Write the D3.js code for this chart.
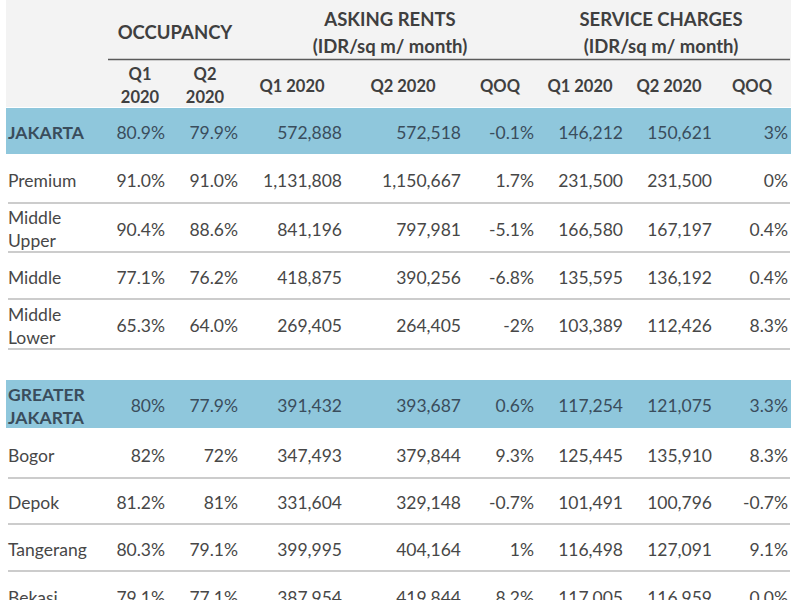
<!DOCTYPE html>
<html><head><meta charset="utf-8">
<script src="https://cdn.jsdelivr.net/npm/d3@7/dist/d3.min.js"></script>
<style>html,body{margin:0;padding:0;background:#fff;overflow:hidden}</style>
</head><body>
<svg id="c" width="800" height="600"></svg>
<script>
// ---- data ----
const regions = ["JAKARTA","Premium","Middle\nUpper","Middle","Middle\nLower","","GREATER\nJAKARTA","Bogor","Depok","Tangerang","Bekasi"];
const isGroup = [true,false,false,false,false,false,true,false,false,false,false];
const occQ1 = ["80.9%","91.0%","90.4%","77.1%","65.3%","","80%","82%","81.2%","80.3%","79.1%"];
const occQ2 = ["79.9%","91.0%","88.6%","76.2%","64.0%","","77.9%","72%","81%","79.1%","77.1%"];
const rentQ1 = ["572,888","1,131,808","841,196","418,875","269,405","","391,432","347,493","331,604","399,995","387,954"];
const rentQ2 = ["572,518","1,150,667","797,981","390,256","264,405","","393,687","379,844","329,148","404,164","419,844"];
const rentQoQ = ["-0.1%","1.7%","-5.1%","-6.8%","-2%","","0.6%","9.3%","-0.7%","1%","8.2%"];
const svcQ1 = ["146,212","231,500","166,580","135,595","103,389","","117,254","125,445","101,491","116,498","117,005"];
const svcQ2 = ["150,621","231,500","167,197","136,192","112,426","","121,075","135,910","100,796","127,091","116,959"];
const svcQoQ = ["3%","0%","0.4%","0.4%","8.3%","","3.3%","8.3%","-0.7%","9.1%","0.0%"];
const groupTitles = [["OCCUPANCY"],["ASKING RENTS","(IDR/sq m/ month)"],["SERVICE CHARGES","(IDR/sq m/ month)"]];
const subHeaders = [["Q1","2020"],["Q2","2020"],["Q1 2020"],["Q2 2020"],["QOQ"],["Q1 2020"],["Q2 2020"],["QOQ"]];

// ---- layout ----
const svg = d3.select("#c");
const font = "Lato, 'Open Sans', sans-serif";
const fs = 17.5;
const left = 6, right = 791;
const headerBottom = 107;
const rowH = [48,48,49,47,50,30,50,49,46,47,49];
const rowTop = []; { let y = headerBottom; rowH.forEach(h => { rowTop.push(y); y += h; }); }
const cols = [occQ1,occQ2,rentQ1,rentQ2,rentQoQ,svcQ1,svcQ2,svcQoQ];
const colRight = [165,238,342,461,534,623,712,788];
const subCenter = [140,205,292,403,500,580,669,752];
const groupCenter = [175,390,661];

// header background
svg.append("rect").attr("x",left).attr("y",0).attr("width",right-left).attr("height",headerBottom).attr("fill","#f3f3f3");

// group titles
groupTitles.forEach((lines,i)=>{
  const ys = lines.length===1 ? [39] : [26,53];
  lines.forEach((t,j)=>{
    svg.append("text").attr("x",groupCenter[i]).attr("y",ys[j]).attr("text-anchor","middle")
      .attr("font-family",font).attr("font-weight","bold").attr("font-size",18.5).attr("fill","#3f3f3f").text(t);
  });
});
svg.append("line").attr("x1",108).attr("x2",790).attr("y1",59.5).attr("y2",59.5).attr("stroke","#5a5a5a").attr("stroke-width",1.6);

// sub headers
subHeaders.forEach((lines,i)=>{
  const ys = lines.length===1 ? [92] : [80,103];
  lines.forEach((t,j)=>{
    svg.append("text").attr("x",subCenter[i]).attr("y",ys[j]).attr("text-anchor","middle")
      .attr("font-family",font).attr("font-weight","bold").attr("font-size",16.5).attr("fill","#404040").text(t);
  });
});

// rows
regions.forEach((r,i)=>{
  if (r==="") return;
  const y0 = rowTop[i], h = rowH[i], cy = y0 + h/2;
  if (isGroup[i]) {
    svg.append("rect").attr("x",left).attr("y",y0+1).attr("width",right-left).attr("height",h-2).attr("fill","#8fc7dc");
  }
  const color = isGroup[i] ? "#3a4d5c" : "#474747";
  const lines = r.split("\n");
  lines.forEach((t,j)=>{
    const ty = cy + 8 + (lines.length===1 ? 0 : (j===0 ? -11.5 : 11.5));
    svg.append("text").attr("x",8).attr("y",ty).attr("font-family",font)
      .attr("font-weight",isGroup[i]?"bold":"normal").attr("font-size",fs).attr("fill",color).text(t);
  });
  cols.forEach((col,c)=>{
    svg.append("text").attr("x",colRight[c]).attr("y",cy+8).attr("text-anchor","end")
      .attr("font-family",font).attr("font-size",fs).attr("fill",color).text(col[i]);
  });
  // separator below non-group rows
  if (!isGroup[i] && !(i+1<regions.length && isGroup[i+1])) {
    svg.append("line").attr("x1",8).attr("x2",790).attr("y1",y0+h).attr("y2",y0+h).attr("stroke","#cccccc").attr("stroke-width",2);
  }
});
</script>
</body></html>
